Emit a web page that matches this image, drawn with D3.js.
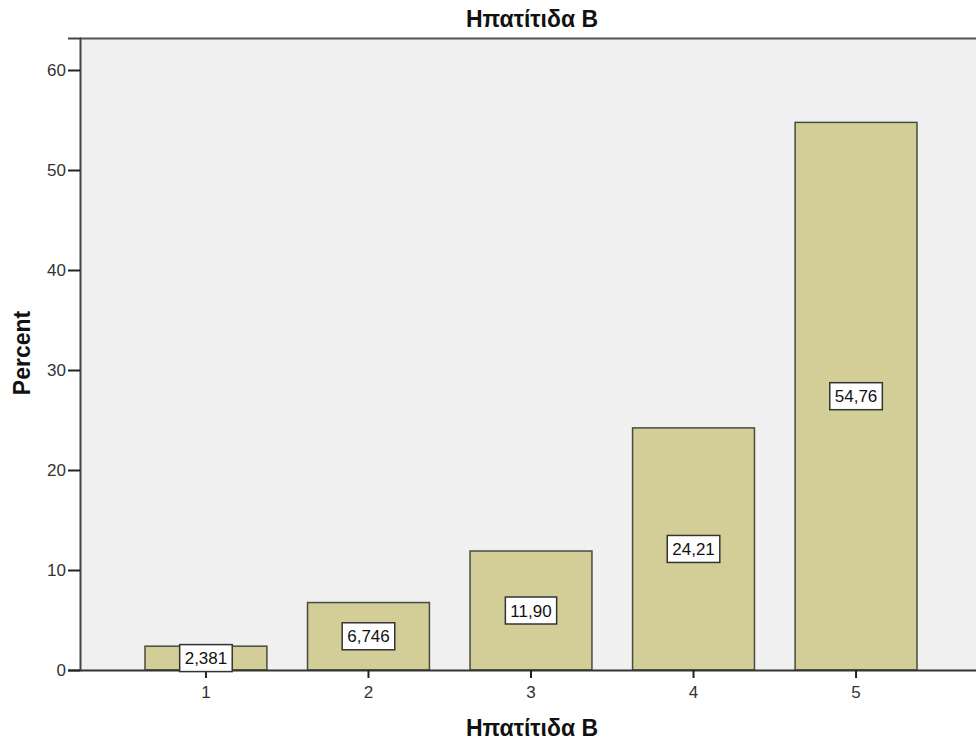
<!DOCTYPE html>
<html>
<head>
<meta charset="utf-8">
<script src="https://cdn.jsdelivr.net/npm/d3@7"></script>
<style>
  html, body { margin: 0; padding: 0; background: #ffffff; }
  svg { display: block; font-family: "Liberation Sans", Arial, sans-serif; }
</style>
</head>
<body>
<svg id="chart" width="976" height="747"></svg>
<script>
// Hepatitis B responses, percent per category
const categories = ["1", "2", "3", "4", "5"];
const percents = [2.381, 6.746, 11.90, 24.21, 54.76];
const yTicks = [0, 10, 20, 30, 40, 50, 60];
const chartTitle = "Ηπατίτιδα Β";
const xTitle = "Ηπατίτιδα Β";
const yTitle = "Percent";

const svg = d3.select("#chart");
const margin = { left: 80, top: 38, bottom: 77 };
const plotW = 902;
const plotH = 747 - margin.top - margin.bottom;

const x = d3.scaleBand()
  .domain(categories)
  .range([margin.left, margin.left + plotW])
  .paddingInner(0.25)
  .paddingOuter(0.4);

const y = d3.scaleLinear()
  .domain([0, 63.2])
  .range([margin.top + plotH, margin.top]);

const locale = d3.formatLocale({ decimal: ",", thousands: ".", grouping: [3], currency: ["", "€"] });
const fmt = locale.format(".4r");

// plot background
svg.append("rect")
  .attr("x", margin.left)
  .attr("y", margin.top)
  .attr("width", plotW)
  .attr("height", plotH)
  .attr("fill", "#f0f0f0");

// top frame line
svg.append("line")
  .attr("x1", margin.left).attr("x2", margin.left + plotW)
  .attr("y1", margin.top + 0.5).attr("y2", margin.top + 0.5)
  .attr("stroke", "#555").attr("stroke-width", 2);

// bars
svg.append("g").selectAll("rect")
  .data(percents)
  .join("rect")
  .attr("x", (d, i) => x(categories[i]))
  .attr("y", d => y(d))
  .attr("width", x.bandwidth())
  .attr("height", d => y(0) - y(d))
  .attr("fill", "#d3ce98")
  .attr("stroke", "#4a4a40")
  .attr("stroke-width", 1.5);

// y axis
const yAxis = svg.append("g")
  .attr("transform", `translate(${margin.left},0)`)
  .call(d3.axisLeft(y).tickValues(yTicks).tickSize(12).tickPadding(2));
yAxis.select(".domain").attr("stroke", "#444").attr("stroke-width", 2);
yAxis.selectAll(".tick line").attr("stroke", "#222").attr("stroke-width", 2);
yAxis.selectAll(".tick text")
  .attr("font-size", 17)
  .attr("fill", "#333")
  .attr("font-family", "Liberation Sans, Arial, sans-serif");

// x axis
const xAxis = svg.append("g")
  .attr("transform", `translate(0,${y(0)})`)
  .call(d3.axisBottom(x).tickSize(8).tickPadding(8).tickSizeOuter(0));
xAxis.select(".domain").attr("stroke", "#333").attr("stroke-width", 2);
xAxis.selectAll(".tick line").attr("stroke", "#222").attr("stroke-width", 2);
xAxis.selectAll(".tick text")
  .attr("font-size", 17)
  .attr("fill", "#333")
  .attr("font-family", "Liberation Sans, Arial, sans-serif");

// value labels in boxes at bar mid-height
const labels = svg.append("g").selectAll("g")
  .data(percents)
  .join("g")
  .attr("transform", (d, i) => `translate(${x(categories[i]) + x.bandwidth() / 2},${y(d / 2)})`);

labels.append("text")
  .attr("text-anchor", "middle")
  .attr("dy", "0.36em")
  .attr("font-size", 17)
  .attr("fill", "#111")
  .text(d => fmt(d));

labels.each(function () {
  const g = d3.select(this);
  const bb = g.select("text").node().getBBox();
  g.insert("rect", "text")
    .attr("x", bb.x - 5)
    .attr("y", -13.5)
    .attr("width", bb.width + 10)
    .attr("height", 27)
    .attr("fill", "#ffffff")
    .attr("stroke", "#333")
    .attr("stroke-width", 1.5);
});

// titles
svg.append("text")
  .attr("x", 532).attr("y", 27)
  .attr("text-anchor", "middle")
  .attr("font-size", 23)
  .attr("font-weight", "bold")
  .attr("fill", "#111")
  .text(chartTitle);

svg.append("text")
  .attr("x", 532).attr("y", 736)
  .attr("text-anchor", "middle")
  .attr("font-size", 23)
  .attr("font-weight", "bold")
  .attr("fill", "#111")
  .text(xTitle);

svg.append("text")
  .attr("transform", "translate(30,353) rotate(-90)")
  .attr("text-anchor", "middle")
  .attr("font-size", 23)
  .attr("font-weight", "bold")
  .attr("fill", "#111")
  .text(yTitle);
</script>
</body>
</html>
